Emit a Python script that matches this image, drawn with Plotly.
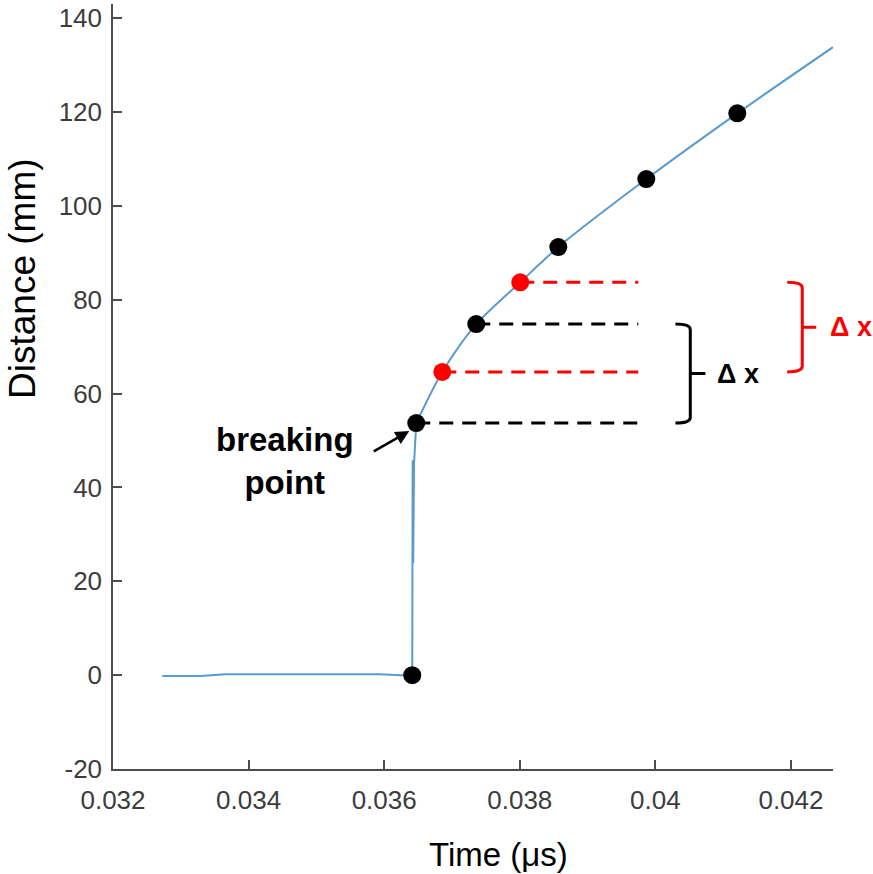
import plotly.graph_objects as go

# Measured trace: flat baseline, sudden jump at the breaking point
base_t = [0.032727, 0.033287, 0.033656, 0.034763, 0.035942, 0.036237, 0.036414,
          0.036420, 0.036428, 0.036440, 0.036473]
base_d = [-0.2, -0.2, 0.2, 0.2, 0.2, 0.0, 0.0,
          45.8, 23.9, 45.0, 53.7]

# Smooth growth after the break
grow_t = [0.036473, 0.036857, 0.037358, 0.038007, 0.038568, 0.039866, 0.041208, 0.04262]
grow_d = [53.7, 64.6, 74.8, 83.7, 91.2, 105.7, 119.7, 133.8]

# Sampled frames
black_t = [0.036414, 0.036473, 0.037358, 0.038568, 0.039866, 0.041208]
black_d = [0.0, 53.7, 74.8, 91.2, 105.7, 119.7]
red_t = [0.036857, 0.038007]
red_d = [64.6, 83.7]

# Guide lines marking the two displacement intervals
guide_end_t = 0.039748
black_pair = [(0.036473, 53.7), (0.037358, 74.8)]
red_pair = [(0.036857, 64.6), (0.038007, 83.7)]

x_ticks = [0.032, 0.034, 0.036, 0.038, 0.040, 0.042]
x_tick_text = ["0.032", "0.034", "0.036", "0.038", "0.04", "0.042"]
y_ticks = [-20, 0, 20, 40, 60, 80, 100, 120, 140]
y_tick_text = ["-20", "0", "20", "40", "60", "80", "100", "120", "140"]

LINE_BLUE = "#5a9bcf"
AXIS_GRAY = "#4d4d4d"
LABEL_GRAY = "#3c3c3c"
FONT = "Liberation Sans, Arial, sans-serif"

fig = go.Figure()

fig.add_trace(go.Scatter(x=base_t, y=base_d, mode="lines",
                         line=dict(color=LINE_BLUE, width=2), hoverinfo="skip"))
fig.add_trace(go.Scatter(x=grow_t, y=grow_d, mode="lines",
                         line=dict(color=LINE_BLUE, width=2, shape="spline", smoothing=0.8),
                         hoverinfo="skip"))

# dashed guides
for pair, col in [(black_pair, "black"), (red_pair, "red")]:
    for t, d in pair:
        fig.add_trace(go.Scatter(x=[t, guide_end_t], y=[d, d], mode="lines",
                                 line=dict(color=col, width=3, dash="14px,9px"),
                                 hoverinfo="skip"))

fig.add_trace(go.Scatter(x=black_t, y=black_d, mode="markers",
                         marker=dict(color="black", size=18), hoverinfo="skip"))
fig.add_trace(go.Scatter(x=red_t, y=red_d, mode="markers",
                         marker=dict(color="red", size=18), hoverinfo="skip"))


def brace_path(x_arm, x_bar, x_tip, y_lo, y_hi, r=1.2):
    y_mid = (y_lo + y_hi) / 2
    return (f"M {x_arm},{y_hi} Q {x_bar},{y_hi} {x_bar},{y_hi - r} "
            f"L {x_bar},{y_lo + r} Q {x_bar},{y_lo} {x_arm},{y_lo} "
            f"M {x_bar},{y_mid} L {x_tip},{y_mid}")


braces = [
    (0.040296, 0.040515, 0.040737, black_pair, "black", 0.04088),
    (0.041945, 0.042167, 0.042373, red_pair, "red", 0.042545),
]
shapes = []
annotations = []
for x_arm, x_bar, x_tip, pair, col, x_lab in braces:
    y_lo, y_hi = pair[0][1], pair[1][1]
    shapes.append(dict(type="path", xref="x", yref="y",
                       path=brace_path(x_arm, x_bar, x_tip, y_lo, y_hi),
                       line=dict(color=col, width=3)))
    annotations.append(dict(x=x_lab, y=(y_lo + y_hi) / 2, xref="x", yref="y",
                            text="<b>\u0394 x</b>", showarrow=False,
                            xanchor="left", yanchor="middle",
                            font=dict(family=FONT, size=27, color=col)))

annotations.append(dict(x=0.034541, y=45.6, xref="x", yref="y",
                        text="<b>breaking<br>point</b>", showarrow=False,
                        xanchor="center", yanchor="middle", align="center",
                        font=dict(family=FONT, size=33, color="black")))
annotations.append(dict(x=0.036370, y=52.0, xref="x", yref="y",
                        ax=0.035824, ay=47.5, axref="x", ayref="y",
                        text="", showarrow=True, arrowhead=2, arrowsize=1.1,
                        arrowwidth=2.5, arrowcolor="black"))

annotations.append(dict(x=0.535, y=-0.1124, xref="paper", yref="paper",
                        text="Time (\u03bcs)", showarrow=False,
                        xanchor="center", yanchor="middle",
                        font=dict(family=FONT, size=33, color="black")))
annotations.append(dict(x=-0.1265, y=0.6418, xref="paper", yref="paper",
                        text="Distance (mm)", showarrow=False, textangle=-90,
                        xanchor="center", yanchor="middle",
                        font=dict(family=FONT, size=37, color="black")))

fig.update_layout(
    width=873, height=874,
    margin=dict(l=113, r=40, t=4, b=105),
    paper_bgcolor="white", plot_bgcolor="white",
    showlegend=False,
    shapes=shapes, annotations=annotations,
    xaxis=dict(range=[0.032, 0.04262], tickvals=x_ticks, ticktext=x_tick_text,
               showgrid=False, zeroline=False, showline=True, linecolor=AXIS_GRAY,
               linewidth=1.5, ticks="inside", ticklen=9, tickwidth=1.5,
               tickcolor=AXIS_GRAY, mirror=False, ticklabelstandoff=7,
               tickfont=dict(family=FONT, size=26, color=LABEL_GRAY)),
    yaxis=dict(range=[-20, 143], tickvals=y_ticks, ticktext=y_tick_text,
               showgrid=False, zeroline=False, showline=True, linecolor=AXIS_GRAY,
               linewidth=1.5, ticks="inside", ticklen=9, tickwidth=1.5,
               tickcolor=AXIS_GRAY, mirror=False, ticklabelstandoff=4,
               tickfont=dict(family=FONT, size=26, color=LABEL_GRAY)),
)

fig.write_html("out.html")
